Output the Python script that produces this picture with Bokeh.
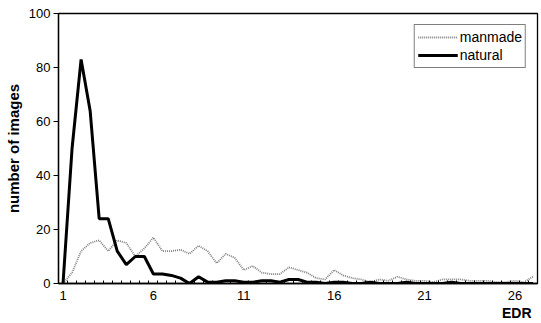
from bokeh.plotting import figure
from bokeh.models import FixedTicker, Range1d, Legend, LegendItem, Title
from bokeh.embed import file_html
from bokeh.resources import INLINE

# EDR categories (half steps)
edr = [1, 1.5, 2, 2.5, 3, 3.5, 4, 4.5, 5, 5.5, 6, 6.5, 7, 7.5, 8, 8.5, 9, 9.5,
       10, 10.5, 11, 11.5, 12, 12.5, 13, 13.5, 14, 14.5, 15, 15.5, 16, 16.5,
       17, 17.5, 18, 18.5, 19, 19.5, 20, 20.5, 21, 21.5, 22, 22.5, 23, 23.5,
       24, 24.5, 25, 25.5, 26, 26.5, 27]

manmade = [0, 4, 12, 15, 16, 12, 16, 15, 10, 13, 17, 12, 12, 12.5, 11, 14, 12, 7.5,
           11, 9.5, 5, 6.5, 4, 3.5, 3.5, 6, 5, 4, 2, 1.5, 5, 3,
           2, 1.5, 0.5, 1.5, 1, 2.5, 1.5, 1, 1, 0.5, 1.5, 1.5, 1.5, 1,
           1, 1, 0.5, 0.5, 1, 0.5, 2.5]

natural = [0, 50, 83, 64, 24, 24, 12, 7, 10, 10, 3.5, 3.5, 3, 2, 0, 2.5, 0.5, 0.5,
           1, 1, 0.5, 0.5, 1, 1, 0.5, 1.5, 1.5, 0.5, 0.5, 0, 0.5, 0.5,
           0, 0, 0.5, 0, 0, 0, 0.5, 0, 0, 0, 0, 0.5, 0, 0,
           0, 0, 0, 0, 0, 0, 0]

x_tick_values = [1, 6, 11, 16, 21, 26]
y_tick_values = [0, 20, 40, 60, 80, 100]

FONT = "Liberation Sans"

p = figure(width=541, height=323, output_backend="svg", toolbar_location=None,
           x_range=Range1d(0.75, 27.25), y_range=Range1d(0, 100),
           min_border_left=58, min_border_right=4, min_border_top=13,
           min_border_bottom=40)
p.xgrid.visible = False
p.ygrid.visible = False
p.outline_line_color = "black"
p.outline_line_width = 1.3
p.background_fill_color = "white"
p.border_fill_color = "white"

r1 = p.line(edr, manmade, line_color="#808080", line_width=1.8, line_dash="1 1")
r2 = p.line(edr, natural, line_color="black", line_width=3)

legend = Legend(items=[LegendItem(label="manmade", renderers=[r1]),
                       LegendItem(label="natural", renderers=[r2])],
                location="top_right")
legend.border_line_color = "black"
legend.border_line_width = 1
legend.label_text_font = FONT
legend.label_text_font_size = "14px"
legend.label_text_color = "black"
legend.glyph_width = 40
legend.glyph_height = 18
legend.label_height = 18
legend.spacing = 0
legend.padding = 3
legend.margin = 11
legend.label_standoff = 2
legend.background_fill_alpha = 1
p.add_layout(legend)

minor = [0.75 + 0.5 * j for j in range(54)]
p.xaxis.ticker = FixedTicker(ticks=x_tick_values, minor_ticks=minor)
p.xaxis.major_tick_in = 0
p.xaxis.major_tick_out = 0
p.xaxis.minor_tick_in = 3
p.xaxis.minor_tick_out = 0
p.xaxis.major_label_standoff = 7
p.xaxis.axis_line_width = 1.3
p.xaxis.major_label_text_font = FONT
p.xaxis.major_label_text_font_size = "13px"
p.xaxis.major_label_text_color = "black"

p.yaxis.ticker = FixedTicker(ticks=y_tick_values, minor_ticks=[])
p.yaxis.major_tick_in = 0
p.yaxis.major_tick_out = 5
p.yaxis.minor_tick_in = 0
p.yaxis.minor_tick_out = 0
p.yaxis.major_label_standoff = 3
p.yaxis.axis_line_width = 1.3
p.yaxis.major_label_text_font = FONT
p.yaxis.major_label_text_font_size = "13px"
p.yaxis.major_label_text_color = "black"
p.yaxis.axis_label = "number of images"
p.yaxis.axis_label_text_font = FONT
p.yaxis.axis_label_text_font_style = "bold"
p.yaxis.axis_label_text_font_size = "15px"
p.yaxis.axis_label_text_color = "black"
p.yaxis.axis_label_standoff = 4

edr_title = Title(text="EDR", align="right", offset=6, standoff=0,
                  text_font=FONT, text_font_style="bold", text_font_size="14px",
                  text_color="black")
p.add_layout(edr_title, "below")

open("out.html", "w").write(file_html(p, INLINE))
